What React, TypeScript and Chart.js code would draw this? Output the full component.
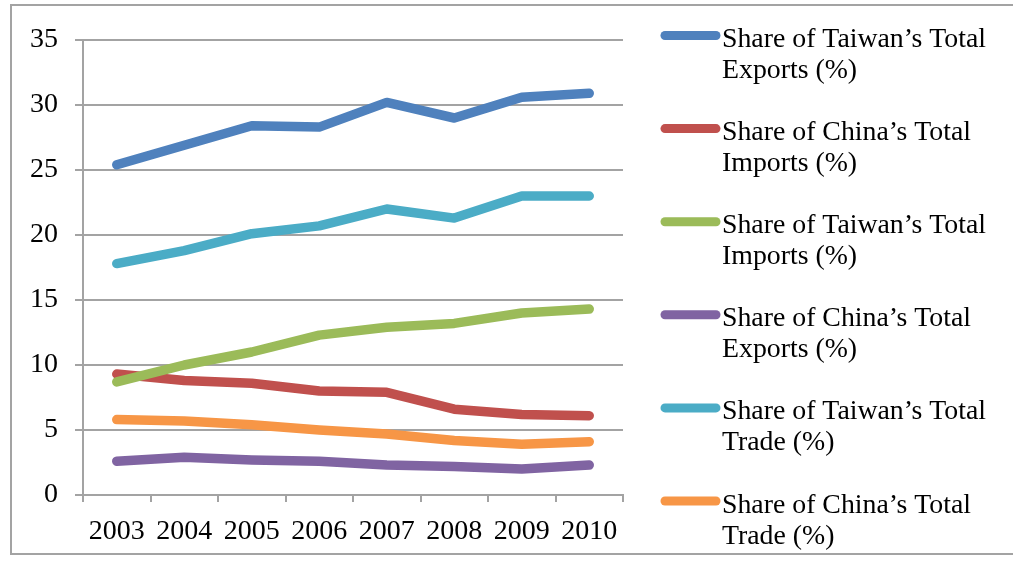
import React, { useEffect, useRef } from "react";
import { Chart, registerables } from "chart.js";

Chart.register(...registerables);

const years = ["2003", "2004", "2005", "2006", "2007", "2008", "2009", "2010"];

const seriesNames = [
  "Share of Taiwan\u2019s Total\nExports (%)",
  "Share of China\u2019s Total\nImports (%)",
  "Share of Taiwan\u2019s Total\nImports (%)",
  "Share of China\u2019s Total\nExports (%)",
  "Share of Taiwan\u2019s Total\nTrade (%)",
  "Share of China\u2019s Total\nTrade (%)",
];

const taiwanExports = [25.4, 26.9, 28.4, 28.3, 30.2, 29.0, 30.6, 30.9];
const chinaImports = [9.3, 8.8, 8.6, 8.0, 7.9, 6.6, 6.2, 6.1];
const taiwanImports = [8.7, 10.0, 11.0, 12.3, 12.9, 13.2, 14.0, 14.3];
const chinaExports = [2.6, 2.9, 2.7, 2.6, 2.3, 2.2, 2.0, 2.3];
const taiwanTrade = [17.8, 18.8, 20.1, 20.7, 22.0, 21.3, 23.0, 23.0];
const chinaTrade = [5.8, 5.7, 5.4, 5.0, 4.7, 4.2, 3.9, 4.1];

const seriesValues = [taiwanExports, chinaImports, taiwanImports, chinaExports, taiwanTrade, chinaTrade];
const seriesColors = ["#4F81BD", "#C0504D", "#9BBB59", "#8064A2", "#4BACC6", "#F79646"];

const yTicks = [0, 5, 10, 15, 20, 25, 30, 35];

const FONT = '"Liberation Serif", "Times New Roman", serif';
const GRID = "#a3a3a3";

const framePlugin = {
  id: "frame",
  beforeDraw(chart: any) {
    const ctx = chart.ctx;
    ctx.save();
    ctx.fillStyle = "#ffffff";
    ctx.fillRect(0, 0, chart.width, chart.height);
    ctx.strokeStyle = GRID;
    ctx.lineWidth = 2;
    ctx.strokeRect(11, 5, 1200, 549);
    ctx.restore();
  },
};

const sideLegendPlugin = {
  id: "sideLegend",
  afterDraw(chart: any) {
    const ctx = chart.ctx;
    ctx.save();
    chart.data.datasets.forEach((ds: any, i: number) => {
      const y = 35.5 + i * 93.1;
      ctx.strokeStyle = ds.borderColor;
      ctx.lineWidth = 9;
      ctx.lineCap = "round";
      ctx.beginPath();
      ctx.moveTo(665, y);
      ctx.lineTo(716, y);
      ctx.stroke();
      ctx.fillStyle = "#000000";
      ctx.font = `27.8px ${FONT}`;
      ctx.textBaseline = "alphabetic";
      ctx.textAlign = "left";
      String(ds.label)
        .split("\n")
        .forEach((line: string, j: number) => {
          ctx.fillText(line, 722, y + 11.5 + j * 31);
        });
    });
    ctx.restore();
  },
};

export default function App() {
  const ref = useRef<HTMLCanvasElement | null>(null);

  useEffect(() => {
    if (!ref.current) return;
    const chart = new Chart(ref.current, {
      type: "line",
      data: {
        labels: years,
        datasets: seriesValues.map((vals, i) => ({
          label: seriesNames[i],
          data: vals,
          borderColor: seriesColors[i],
          backgroundColor: seriesColors[i],
          borderWidth: 9.5,
          pointRadius: 0,
          pointHoverRadius: 0,
          tension: 0,
          borderCapStyle: "round" as const,
          borderJoinStyle: "round" as const,
          fill: false,
          order: 10 - i,
        })),
      },
      options: {
        responsive: false,
        animation: false,
        layout: { padding: { top: 40, right: 390, left: 0, bottom: 0 } },
        plugins: {
          legend: { display: false },
          tooltip: { enabled: false },
          title: { display: false },
        },
        scales: {
          x: {
            type: "category",
            offset: true,
            grid: {
              display: true,
              drawOnChartArea: false,
              drawTicks: true,
              tickLength: 7,
              color: GRID,
              lineWidth: 2,
              offset: true,
            },
            border: { display: true, color: GRID, width: 2 },
            ticks: {
              color: "#000000",
              font: { family: FONT, size: 28 },
              padding: 13,
              maxRotation: 0,
              autoSkip: false,
            },
            afterFit: (s: any) => {
              s.height = 70;
            },
          },
          y: {
            min: 0,
            max: 35,
            afterBuildTicks: (s: any) => {
              s.ticks = yTicks.map((v) => ({ value: v }));
            },
            grid: { color: GRID, lineWidth: 2, tickLength: 8 },
            border: { display: true, color: GRID, width: 2 },
            ticks: {
              color: "#000000",
              font: { family: FONT, size: 28 },
              padding: 17,
            },
            afterFit: (s: any) => {
              s.width = 83;
            },
          },
        },
      },
      plugins: [framePlugin, sideLegendPlugin],
    });
    return () => chart.destroy();
  }, []);

  return (
    <div style={{ position: "absolute", left: 0, top: 0, width: 1013, height: 565 }}>
      <canvas ref={ref} width={1013} height={565} />
    </div>
  );
}
